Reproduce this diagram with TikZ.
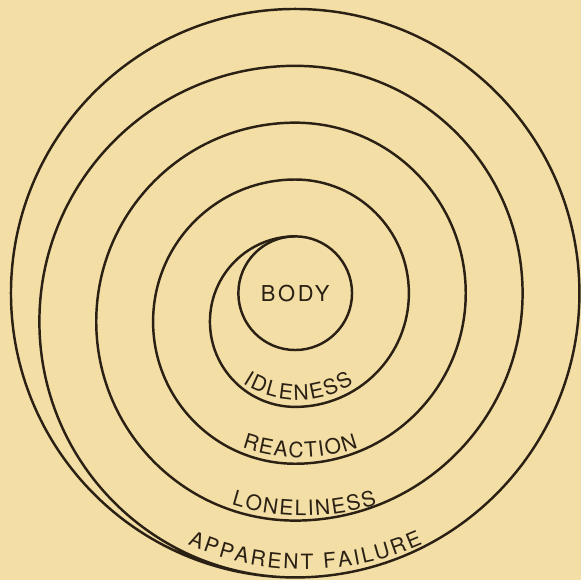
\documentclass[tikz,border=0pt]{standalone}
\usepackage{fontspec}
\setmainfont{TeX Gyre Heros}
\newfontfamily\lettrage[LetterSpace=12]{TeX Gyre Heros}
\usetikzlibrary{decorations.text}
\definecolor{papier}{RGB}{243,222,166}
\definecolor{encre}{RGB}{42,32,20}
\newcommand{\etiqfont}{\fontsize{12}{14}\selectfont}

\begin{document}
\begin{tikzpicture}[x=0.02cm, y=0.02cm,
  trait/.style={draw=encre, line width=1.4pt},
  etiq/.style={decorate, decoration={text along path, text align=center,
               text color=encre, text={|\etiqfont|#1}}}]

% ── fond ──
\fill[papier] (0,0) rectangle (583,582);

% ── le corps ──
\node[trait, circle, minimum size=2.28cm, inner sep=0pt, outer sep=0pt,
      text=encre, font=\lettrage\fontsize{12.5}{14}\selectfont] (body) at (296,288) {BODY};

% ── la spirale : demi-cercles alternés ──
\draw[trait] (body.north)
  arc[start angle=90, end angle=270, radius=85.5]
  arc[start angle=-90, end angle=90, radius=114]
  arc[start angle=90, end angle=270, radius=142.5]
  arc[start angle=-90, end angle=90, radius=171]
  arc[start angle=90, end angle=270, radius=199.5]
  arc[start angle=-90, end angle=90, radius=228]
  arc[start angle=90, end angle=270, radius=256.5]
  arc[start angle=-90, end angle=270, radius=285];

% ── les étiquettes le long des tours (lettres espacées à la main) ──
\path[etiq={{I\kern1.1pt}{D\kern1.1pt}{L\kern1.1pt}{E\kern1.1pt}{N\kern1.1pt}{E\kern1.1pt}{S\kern1.1pt}{S}},
      shift={(299,281)}]
  (200:100) arc[start angle=200, end angle=340, radius=100];
\path[etiq={{R\kern0.8pt}{E\kern0.8pt}{A\kern0.8pt}{C\kern0.8pt}{T\kern0.8pt}{I\kern0.8pt}{O\kern0.8pt}{N}},
      shift={(301,295)}]
  (220:172) arc[start angle=220, end angle=320, radius=172];
\path[etiq={{L\kern1pt}{O\kern1pt}{N\kern1pt}{E\kern1pt}{L\kern1pt}{I\kern1pt}{N\kern1pt}{E\kern1pt}{S\kern1pt}{S}},
      shift={(305,305)}]
  (225:240) arc[start angle=225, end angle=315, radius=240];
\path[etiq={{A\kern1.3pt}{P\kern1.3pt}{P\kern1.3pt}{A\kern1.3pt}{R\kern1.3pt}{E\kern1.3pt}{N\kern1.3pt}{T}{\kern6pt}{F\kern1.3pt}{A\kern1.3pt}{I\kern1.3pt}{L\kern1.3pt}{U\kern1.3pt}{R\kern1.3pt}{E}},
      shift={(306,301)}]
  (220:290) arc[start angle=220, end angle=320, radius=290];

\end{tikzpicture}
\end{document}
